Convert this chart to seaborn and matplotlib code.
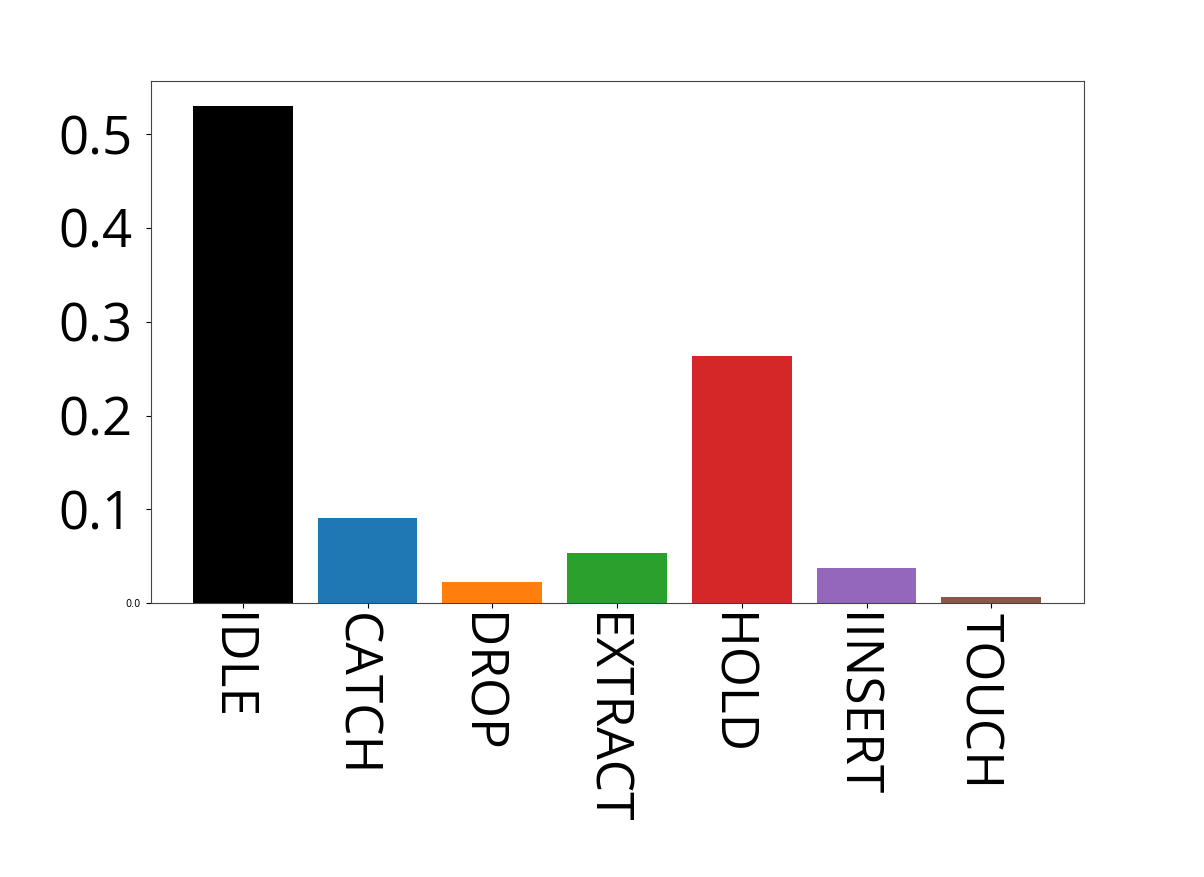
import numpy as np
import seaborn as sns
import matplotlib.pyplot as plt
import matplotlib.transforms as mtransforms

# クラスごとの割合
labels = ["IDLE", "CATCH", "DROP", "EXTRACT", "HOLD", "IINSERT", "TOUCH"]
values = [0.530, 0.0907, 0.0224, 0.0534, 0.2636, 0.0374, 0.0064]
colors = ["black", "tab:blue", "tab:orange", "tab:green", "tab:red", "tab:purple", "tab:brown"]
yticks = [0.0, 0.1, 0.2, 0.3, 0.4, 0.5]

plt.rcParams['font.family'] = ['Open Sans', 'DejaVu Sans']

fig = plt.figure(figsize=(12.04, 8.77), dpi=100)
ax = fig.add_axes([0.125, 0.312, 0.775, 0.596])

sns.barplot(x=labels, y=values, hue=labels, palette=colors, legend=False,
            saturation=1, width=0.8, linewidth=0, ax=ax)

ax.set_xlim(-0.74, len(labels) - 1 + 0.74)
ax.set_ylim(0, max(values) * 1.05)
ax.set_yticks(yticks)
ax.set_yticklabels([f"{v:.1f}" for v in yticks])
ax.set_xlabel("")
ax.set_ylabel("")

ax.tick_params(axis="x", labelsize=37, labelrotation=-90)
ax.tick_params(axis="y", labelsize=38)

# ラベル位置の微調整
dx = mtransforms.ScaledTranslation(-13 / 100, 0, fig.dpi_scale_trans)
for t in ax.get_xticklabels():
    t.set_ha("center")
    t.set_va("top")
    t.set_transform(t.get_transform() + dx)

dy = mtransforms.ScaledTranslation(-8 / 100, 0, fig.dpi_scale_trans)
ylabs = ax.get_yticklabels()
for t in ylabs[1:]:
    t.set_transform(t.get_transform() + dy)

# 0.0 だけ小さいフォント
ylabs[0].set_fontsize(7)
ylabs[0].set_family("DejaVu Sans")

for s in ax.spines.values():
    s.set_color("#444444")

fig.savefig("out.png", dpi=100)
